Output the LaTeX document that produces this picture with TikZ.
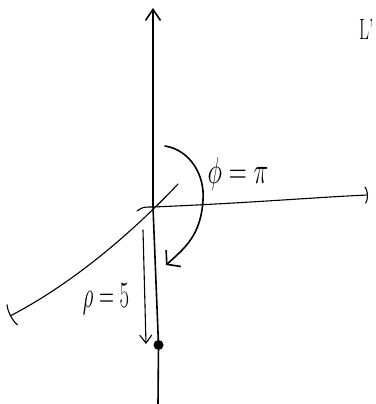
\documentclass[tikz,border=0pt]{standalone}
\usepackage{amsmath, amssymb}
\usetikzlibrary{arrows.meta, positioning, calc}

\newcommand{\tallbox}[2]{\scalebox{1}[#1]{#2}}

\begin{document}
\begin{tikzpicture}[
  x=1pt, y=-1pt,
  axis/.style={black, line width=1.6pt, line cap=round},
  thinaxis/.style={black, line width=1.1pt, line cap=round},
  barb/.style={-{Straight Barb[length=11pt, width=15pt]}},
  lbl/.style={inner sep=0pt, font=\fontsize{24.88}{30}\selectfont},
  dot/.style={circle, fill=black, inner sep=0pt, minimum size=10pt}
]
\useasboundingbox (0,0) rectangle (375,404);
\coordinate (ztop) at (153,8);
\coordinate (zbot) at (158,404);
\coordinate (O) at (153,207);
\coordinate (xstub) at (178,184);
\coordinate (xend) at (10,316);
\coordinate (ystart) at (137,211);
\coordinate (yend) at (368,195);
\coordinate (rtop) at (143,230);
\coordinate (rbot) at (146,344);
\coordinate (phis) at (165,146);
\coordinate (phie) at (166,265);
\node[dot] (P) at (158.5,345) {};
\draw[axis, barb] (zbot) -- (P) -- (O) -- (ztop);
\draw[thinaxis, {Parenthesis[length=5pt, width=28pt]}-] (xend) .. controls (70,285) and (130,235) .. (xstub);
\draw[thinaxis, -{Parenthesis[length=5pt, width=20pt]}] (ystart) .. controls (143,207) .. (O) .. controls (250,203) and (320,197) .. (yend);
\draw[thinaxis, -{Straight Barb[length=8pt, width=12pt]}] (rtop) -- (rbot);
\draw[axis, -{Straight Barb[length=9pt, width=22pt]}] (phis) .. controls (190,150) and (205,175) .. (203,200) .. controls (201,235) and (185,248) .. (phie);
\node[lbl] (phi) at (238,174) {\tallbox{1.5}{$\phi=\pi$}};
\node[lbl, font=\fontsize{20.74}{24}\selectfont] (rho) at (106,299) {\tallbox{1.8}{$\rho=5$}};
\node[lbl, font=\fontsize{17.28}{22}\selectfont, anchor=west] (L) at (359,29) {\tallbox{1.7}{L'}};
\end{tikzpicture}
\end{document}
